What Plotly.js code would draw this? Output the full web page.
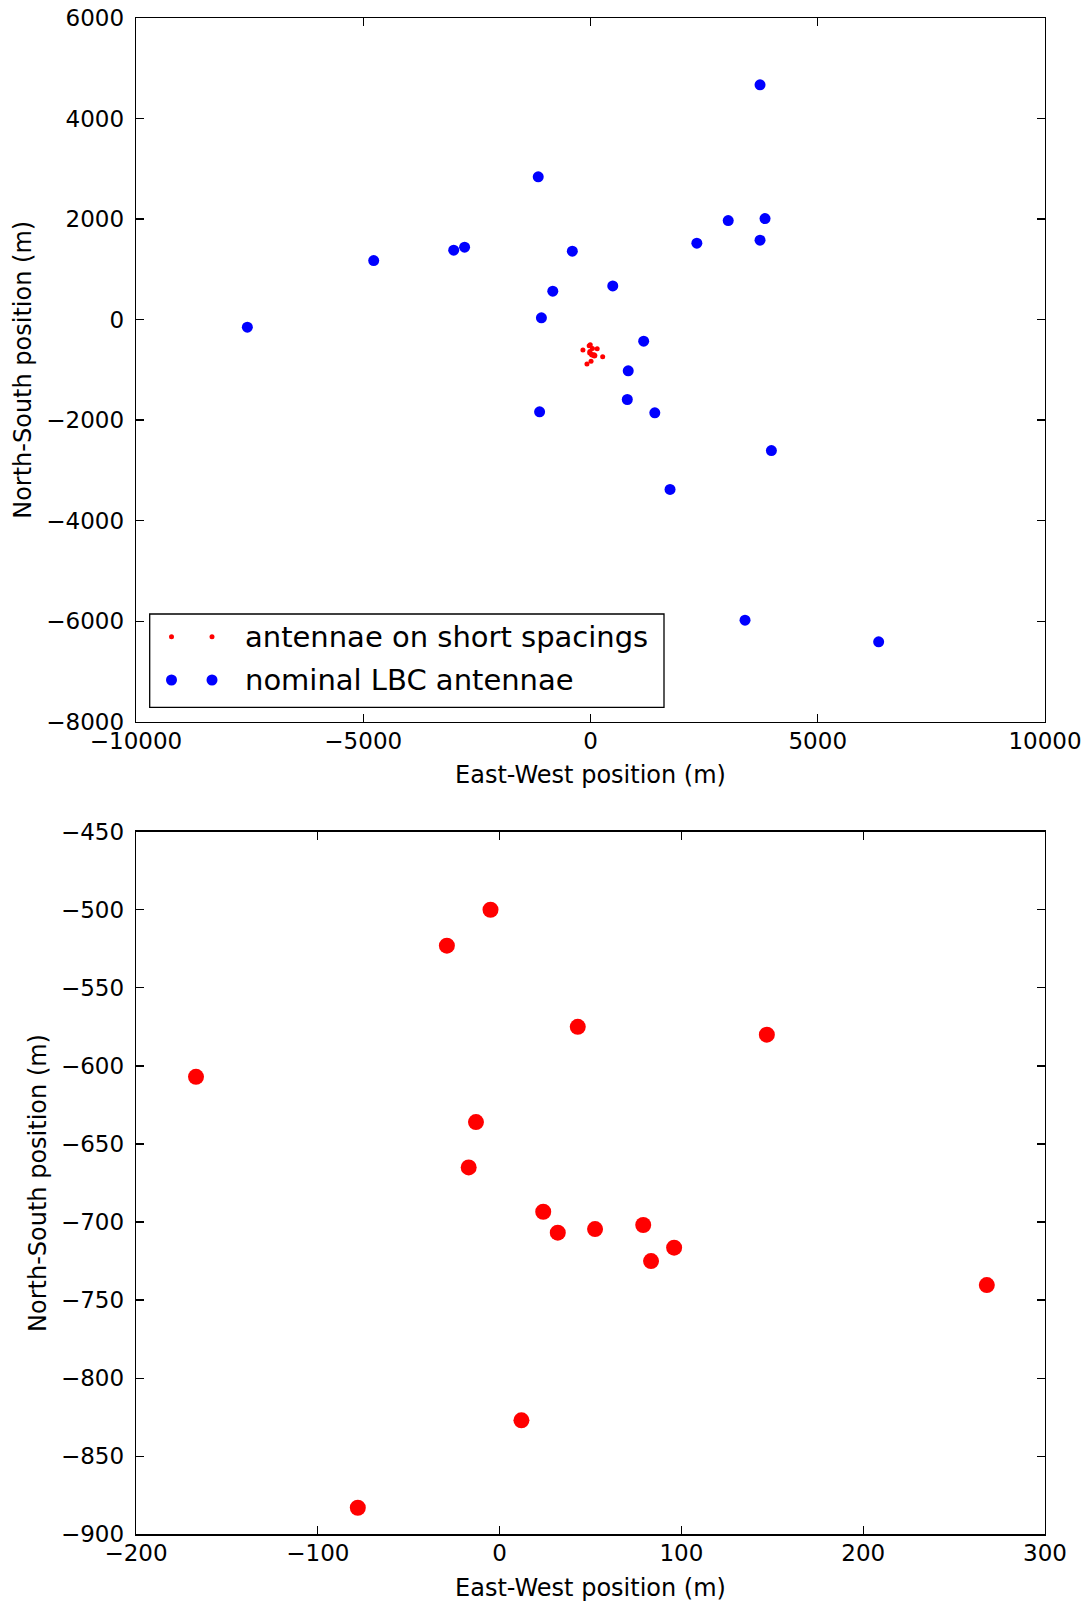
<!DOCTYPE html>
<html>
<head>
<meta charset="utf-8">
<script src="https://cdn.plot.ly/plotly-3.0.1.min.js"></script>
<style>
html,body{margin:0;padding:0;background:#fff;}
#chart{width:1089px;height:1602px;}
</style>
</head>
<body>
<div id="chart"></div>
<script>
// Nominal LBC antennae (East-West, North-South in metres)
const lbcEW = [3730, -1150, 3840, 3030, 3730, 2340, -2770, -3010, -400, -4770, 490, -830, -1080, -7550, 1170, 830, 810, 1415, -1120, 3980, 1750, 3400, 6340];
const lbcNS = [4670, 2840, 2010, 1970, 1580, 1520, 1440, 1380, 1360, 1175, 670, 565, 35, -150, -430, -1020, -1590, -1855, -1835, -2605, -3380, -5980, -6410];

// Antennae on short spacings (East-West, North-South in metres)
const shortEW = [-5, -29, 43, 147, -167, -13, -17, 24, 32, 52.5, 79, 83.3, 96, 268, 12, -78];
const shortNS = [-500, -523, -575, -580, -607, -636, -665, -693.4, -706.8, -704.5, -701.9, -725, -716.4, -740.4, -827, -883];

// Tick values
const topXTicks = [-10000, -5000, 0, 5000, 10000];
const topYTicks = [-8000, -6000, -4000, -2000, 0, 2000, 4000, 6000];
const botXTicks = [-200, -100, 0, 100, 200, 300];
const botYTicks = [-900, -850, -800, -750, -700, -650, -600, -550, -500, -450];

const legendLabels = ['antennae on short spacings', 'nominal LBC antennae'];

const FONT = 'DejaVu Sans, sans-serif';
const W = 1089, H = 1602;
const px = v => v / W;
const py = v => 1 - v / H;
const fmt = v => v < 0 ? '\u2212' + Math.abs(v) : String(v);

const traces = [
  {x: shortEW, y: shortNS, xaxis: 'x', yaxis: 'y', type: 'scatter', mode: 'markers',
   name: legendLabels[0], marker: {color: '#ff0000', size: 5, line: {width: 0}}, hoverinfo: 'x+y'},
  {x: lbcEW, y: lbcNS, xaxis: 'x', yaxis: 'y', type: 'scatter', mode: 'markers',
   name: legendLabels[1], marker: {color: '#0000ff', size: 11, line: {width: 0}}, hoverinfo: 'x+y'},
  {x: shortEW, y: shortNS, xaxis: 'x2', yaxis: 'y2', type: 'scatter', mode: 'markers',
   name: legendLabels[0], showlegend: false, marker: {color: '#ff0000', size: 16, line: {width: 0}}, hoverinfo: 'x+y'}
];

function axisBase(extra) {
  return Object.assign({
    showline: true, linecolor: '#000', linewidth: 1.3, mirror: 'ticks',
    ticks: 'inside', ticklen: 8, tickwidth: 1.3, tickcolor: '#000',
    showgrid: false, zeroline: false, exponentformat: 'none',
    tickfont: {family: FONT, size: 23, color: '#000'},
    tickmode: 'array'
  }, extra);
}

const xDom = [px(136), px(1045)];
const titleFont = {family: FONT, size: 24, color: '#000'};

const layout = {
  width: W, height: H,
  margin: {l: 0, r: 0, t: 0, b: 0},
  paper_bgcolor: '#fff', plot_bgcolor: '#fff',
  showlegend: false,
  font: {family: FONT, color: '#000'},
  xaxis: axisBase({domain: xDom, anchor: 'y', range: [-10000, 10000], tickvals: topXTicks,
    ticktext: topXTicks.map(fmt), ticklabelstandoff: -2,
    title: {text: 'East-West position (m)', font: titleFont, standoff: 13}}),
  yaxis: axisBase({domain: [py(721.7), py(18)], anchor: 'x', range: [-8000, 6000], tickvals: topYTicks,
    ticktext: topYTicks.map(fmt), ticklabelstandoff: 6,
    title: {text: 'North-South position (m)', font: titleFont, standoff: 8}}),
  xaxis2: axisBase({domain: xDom, anchor: 'y2', range: [-200, 300], tickvals: botXTicks,
    ticktext: botXTicks.map(fmt), ticklabelstandoff: -2,
    title: {text: 'East-West position (m)', font: titleFont, standoff: 14}}),
  yaxis2: axisBase({domain: [py(1534.3), py(831.7)], anchor: 'x2', range: [-900, -450], tickvals: botYTicks,
    ticktext: botYTicks.map(fmt), ticklabelstandoff: 6,
    title: {text: 'North-South position (m)', font: titleFont, standoff: 7}}),
  shapes: [
    // legend frame
    {type: 'rect', xref: 'paper', yref: 'paper', x0: px(149.7), x1: px(664), y0: py(707.3), y1: py(614),
     line: {color: '#000', width: 1.3}, fillcolor: '#fff', layer: 'above'},
    // legend markers (two per entry, as in the original)
    {type: 'circle', xref: 'paper', yref: 'paper', xsizemode: 'pixel', ysizemode: 'pixel',
     xanchor: px(171.5), yanchor: py(636.7), x0: -2.5, x1: 2.5, y0: -2.5, y1: 2.5,
     fillcolor: '#ff0000', line: {width: 0}, layer: 'above'},
    {type: 'circle', xref: 'paper', yref: 'paper', xsizemode: 'pixel', ysizemode: 'pixel',
     xanchor: px(212), yanchor: py(636.7), x0: -2.5, x1: 2.5, y0: -2.5, y1: 2.5,
     fillcolor: '#ff0000', line: {width: 0}, layer: 'above'},
    {type: 'circle', xref: 'paper', yref: 'paper', xsizemode: 'pixel', ysizemode: 'pixel',
     xanchor: px(171.5), yanchor: py(680), x0: -5.5, x1: 5.5, y0: -5.5, y1: 5.5,
     fillcolor: '#0000ff', line: {width: 0}, layer: 'above'},
    {type: 'circle', xref: 'paper', yref: 'paper', xsizemode: 'pixel', ysizemode: 'pixel',
     xanchor: px(212), yanchor: py(680), x0: -5.5, x1: 5.5, y0: -5.5, y1: 5.5,
     fillcolor: '#0000ff', line: {width: 0}, layer: 'above'}
  ],
  annotations: [
    {xref: 'paper', yref: 'paper', x: px(242.6), y: py(636.7), xanchor: 'left', yanchor: 'middle',
     text: legendLabels[0], showarrow: false, font: {family: FONT, size: 29, color: '#000'}},
    {xref: 'paper', yref: 'paper', x: px(242.6), y: py(680), xanchor: 'left', yanchor: 'middle',
     text: legendLabels[1], showarrow: false, font: {family: FONT, size: 29, color: '#000'}}
  ]
};

Plotly.newPlot('chart', traces, layout, {displayModeBar: false, staticPlot: true});
</script>
</body>
</html>
